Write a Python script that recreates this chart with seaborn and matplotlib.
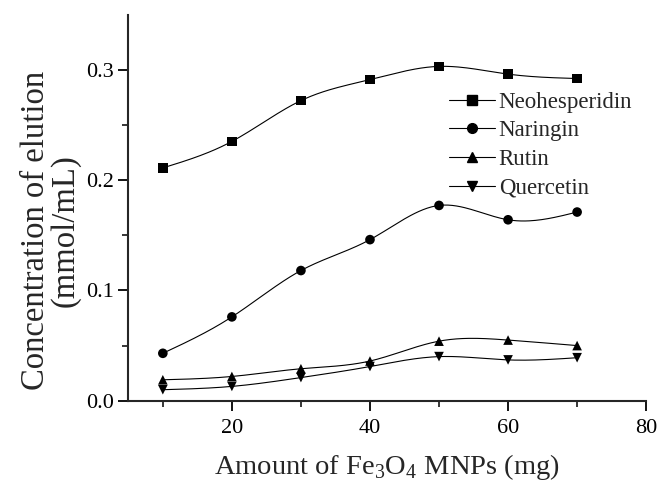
import numpy as np
import matplotlib
matplotlib.use("Agg")
import matplotlib.pyplot as plt
import seaborn as sns
import pandas as pd
from matplotlib.lines import Line2D

amount = [10, 20, 30, 40, 50, 60, 70]
neohesperidin = [0.211, 0.235, 0.272, 0.291, 0.303, 0.296, 0.292]
naringin = [0.043, 0.076, 0.118, 0.146, 0.177, 0.164, 0.171]
rutin = [0.019, 0.022, 0.029, 0.036, 0.054, 0.055, 0.050]
quercetin = [0.010, 0.013, 0.021, 0.031, 0.040, 0.037, 0.039]

series = {"Neohesperidin": neohesperidin, "Naringin": naringin,
          "Rutin": rutin, "Quercetin": quercetin}
markers = {"Neohesperidin": "s", "Naringin": "o", "Rutin": "^", "Quercetin": "v"}

sns.set_style("ticks")
plt.rcParams['font.family'] = ['Liberation Serif', 'DejaVu Serif']
plt.rcParams['mathtext.fontset'] = 'custom'
plt.rcParams['mathtext.rm'] = 'Liberation Serif'


def natural_spline(x, y, n=200):
    x = np.asarray(x, float); y = np.asarray(y, float)
    k = len(x); h = np.diff(x)
    A = np.zeros((k, k)); b = np.zeros(k)
    A[0, 0] = A[-1, -1] = 1
    for i in range(1, k - 1):
        A[i, i - 1] = h[i - 1]; A[i, i] = 2 * (h[i - 1] + h[i]); A[i, i + 1] = h[i]
        b[i] = 3 * ((y[i + 1] - y[i]) / h[i] - (y[i] - y[i - 1]) / h[i - 1])
    c = np.linalg.solve(A, b)
    xs = np.linspace(x[0], x[-1], n); ys = np.empty_like(xs)
    for j, xv in enumerate(xs):
        i = min(np.searchsorted(x, xv, side='right') - 1, k - 2)
        dx = xv - x[i]
        bb = (y[i + 1] - y[i]) / h[i] - h[i] * (2 * c[i] + c[i + 1]) / 3
        d = (c[i + 1] - c[i]) / (3 * h[i])
        ys[j] = y[i] + bb * dx + c[i] * dx ** 2 + d * dx ** 3
    return xs, ys


fig, ax = plt.subplots(figsize=(6.58, 4.84), dpi=100)
fig.subplots_adjust(left=0.195, right=0.982, top=0.97, bottom=0.172)

rows = []
for name, vals in series.items():
    for a, v in zip(amount, vals):
        rows.append({"amount": a, "conc": v, "compound": name})
df = pd.DataFrame(rows)

for name, vals in series.items():
    xs, ys = natural_spline(amount, vals)
    ax.plot(xs, ys, color='black', lw=0.8, zorder=2)

sns.scatterplot(data=df, x="amount", y="conc", style="compound", markers=markers,
                color='black', s=48, edgecolor='none', ax=ax, legend=False, zorder=3)

handles = [Line2D([], [], color='black', lw=0.8, marker=markers[n], markersize=7, label=n)
           for n in series]
ax.legend(handles=handles, loc='upper left', bbox_to_anchor=(0.62, 0.80), frameon=False,
          fontsize=16.5, handlelength=2.0, handletextpad=0.15, labelspacing=0.33,
          borderaxespad=0, borderpad=0)

ax.set_xlim(5, 80)
ax.set_ylim(0, 0.35)
ax.set_xticks([20, 40, 60, 80])
ax.set_xticks([10, 30, 50, 70], minor=True)
ax.set_yticks([0.0, 0.1, 0.2, 0.3])
ax.set_yticks([0.05, 0.15, 0.25], minor=True)
ax.set_yticklabels(["0.0", "0.1", "0.2", "0.3"])
ax.tick_params(axis='both', which='major', labelsize=16, length=7, width=1.3, direction='out', colors='black')
ax.tick_params(axis='x', which='major', pad=6)
ax.tick_params(axis='both', which='minor', length=4, width=1.3, direction='out')
for s in ['left', 'bottom']:
    ax.spines[s].set_linewidth(1.5)
sns.despine(ax=ax)

ax.set_xlabel(r"Amount of Fe$_3$O$_4$ MNPs (mg)", fontsize=20.5, labelpad=10)
ax.set_ylabel("Concentration of elution\n(mmol/mL)", fontsize=23.5, linespacing=0.95)
ax.yaxis.set_label_coords(-0.093, 0.44)

fig.savefig("out.png", dpi=100)
